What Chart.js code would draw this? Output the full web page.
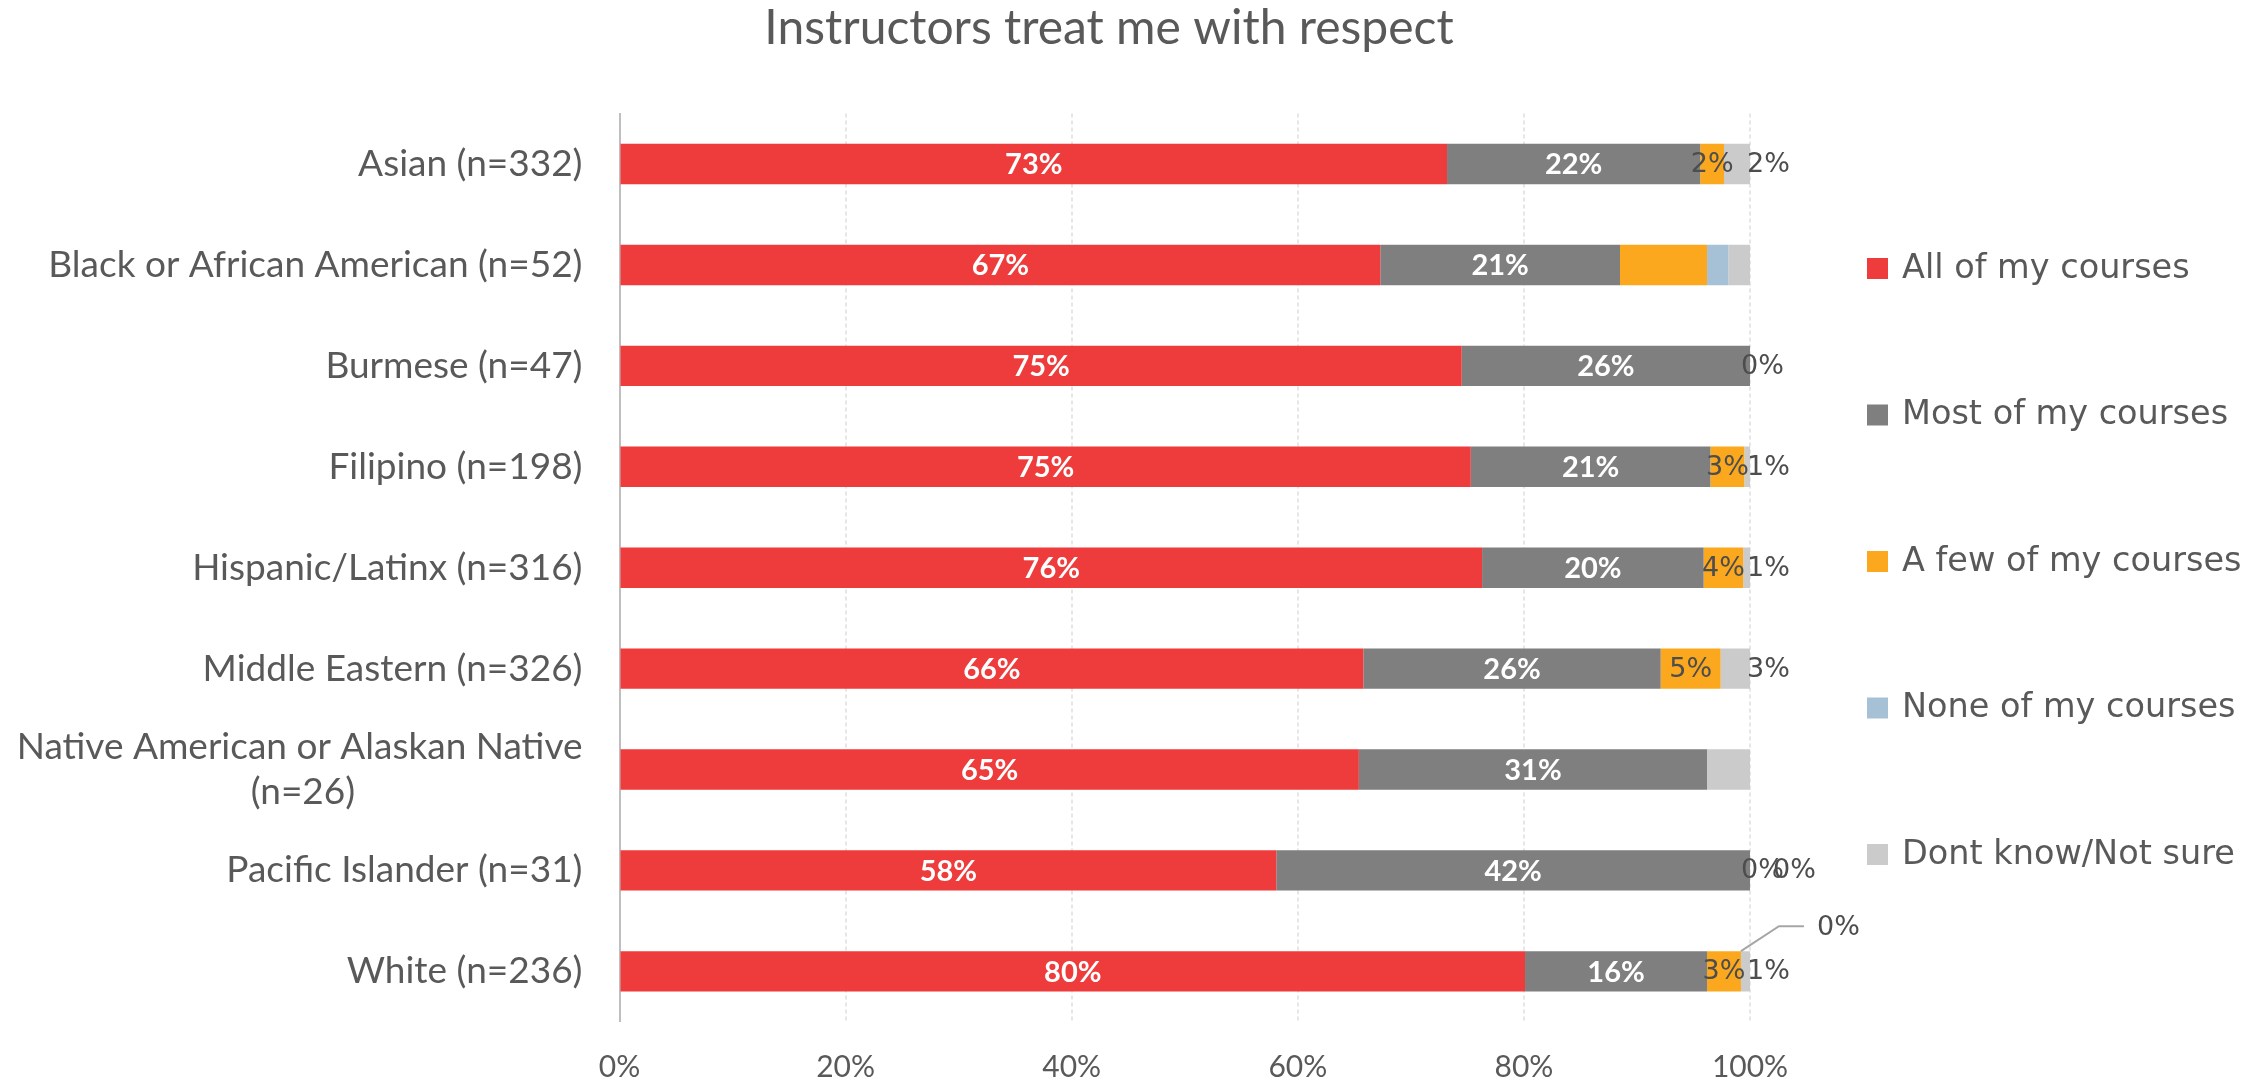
<!DOCTYPE html>
<html><head><meta charset="utf-8">
<script src="https://cdn.jsdelivr.net/npm/chart.js@4/dist/chart.umd.min.js"></script>
<style>html,body{margin:0;padding:0;background:#fff;overflow:hidden;}#wrap{width:2259px;height:1081px;position:relative;}canvas{display:block;}</style>
</head><body><div id="wrap"><canvas id="c" width="2259" height="1081" style="width:2259px;height:1081px"></canvas></div>
<script>
const chartTitle = 'Instructors treat me with respect';
const categories = ['Asian (n=332)', 'Black or African American (n=52)', 'Burmese (n=47)', 'Filipino (n=198)', 'Hispanic/Latinx (n=316)', 'Middle Eastern (n=326)', ['Native American or Alaskan Native', '(n=26)                        '], 'Pacific Islander (n=31)', 'White (n=236)'];
const seriesNames = ['All of my courses', 'Most of my courses', 'A few of my courses', 'None of my courses', 'Dont know/Not sure'];
const seriesColors = ['#EE3B3B', '#7F7F7F', '#FBA81E', '#A6C1D6', '#CBCBCB'];
const allCourses  = [73.2, 67.3, 74.5, 75.3, 76.3, 65.8, 65.4, 58.1, 80.1];
const mostCourses = [22.4, 21.2, 25.5, 21.2, 19.6, 26.3, 30.8, 41.9, 16.1];
const fewCourses  = [2.1, 7.7, 0, 3.0, 3.5, 5.3, 0, 0, 3.0];
const noneCourses = [0, 1.9, 0, 0, 0, 0, 0, 0, 0];
const dontKnow    = [2.3, 1.9, 0, 0.5, 0.6, 2.6, 3.8, 0, 0.8];
const allLabels      = ['73%', '67%', '75%', '75%', '76%', '66%', '65%', '58%', '80%'];
const mostLabels     = ['22%', '21%', '26%', '21%', '20%', '26%', '31%', '42%', '16%'];
const fewLabels      = ['2%', '', '0%', '3%', '4%', '5%', '', '0%', '3%'];
const noneLabels     = ['', '', '', '', '', '', '', '0%', '0%'];
const dontKnowLabels = ['2%', '', '', '1%', '1%', '3%', '', '', '1%'];
const xTickLabels = ['0%', '20%', '40%', '60%', '80%', '100%'];

const seriesValues = [allCourses, mostCourses, fewCourses, noneCourses, dontKnow];
const seriesLabels = [allLabels, mostLabels, fewLabels, noneLabels, dontKnowLabels];

const TEXT = '#595959';
const SMALL = '#4d4d4d';

const segLabels = {
  id: 'segLabels',
  afterDatasetsDraw(chart) {
    const ctx = chart.ctx;
    chart.data.datasets.forEach((ds, di) => {
      const meta = chart.getDatasetMeta(di);
      meta.data.forEach((bar, i) => {
        const txt = seriesLabels[di][i];
        if (!txt) return;
        const p = bar.getProps(['x', 'y', 'base', 'height'], true);
        const left = Math.min(p.x, p.base), right = Math.max(p.x, p.base);
        const v = seriesValues[di][i];
        ctx.save();
        ctx.textBaseline = 'middle';
        if (di < 2) {
          ctx.font = 'bold 29px Lato';
          ctx.fillStyle = '#ffffff';
          ctx.textAlign = 'center';
          ctx.fillText(txt, (left + right) / 2, p.y + 1);
        } else {
          ctx.font = '27px "DejaVu Sans"';
          ctx.fillStyle = SMALL;
          const barEnd = chart.getDatasetMeta(4).data[i].getProps(['x'], true).x;
          if (di === 2) {
            if (v > 0) { ctx.textAlign = 'center'; ctx.fillText(txt, (left + right) / 2, p.y + 1); }
            else { ctx.textAlign = 'left'; ctx.fillText(txt, barEnd - 9, p.y + 1); }
          } else if (di === 3) {
            if (seriesLabels[4][i]) {
              const top = p.y - p.height / 2;
              ctx.strokeStyle = '#a6a6a6';
              ctx.lineWidth = 2;
              ctx.beginPath();
              ctx.moveTo(left, top);
              ctx.lineTo(left + 38, top - 25);
              ctx.lineTo(left + 63, top - 25);
              ctx.stroke();
              ctx.textAlign = 'left';
              ctx.fillText(txt, left + 76, top - 23);
            } else {
              ctx.textAlign = 'left';
              ctx.fillText(txt, barEnd + 23, p.y + 1);
            }
          } else {
            ctx.textAlign = 'left';
            ctx.fillText(txt, right - 3, p.y + 1);
          }
        }
        ctx.restore();
      });
    });
  }
};

const sideLegend = {
  id: 'sideLegend',
  afterDraw(chart) {
    const ctx = chart.ctx;
    ctx.save();
    chart.data.datasets.forEach((ds, k) => {
      const cy = 268 + k * 146.5;
      ctx.fillStyle = ds.backgroundColor;
      ctx.fillRect(1867, cy - 10, 21, 21);
      ctx.font = '33.5px "DejaVu Sans"';
      ctx.fillStyle = TEXT;
      ctx.textAlign = 'left';
      ctx.textBaseline = 'middle';
      ctx.fillText(ds.label, 1902, cy + 1);
    });
    ctx.restore();
  }
};

new Chart(document.getElementById('c'), {
  type: 'bar',
  data: {
    labels: categories,
    datasets: seriesNames.map((name, k) => ({
      label: name,
      data: seriesValues[k],
      backgroundColor: seriesColors[k],
      borderWidth: 0,
      barPercentage: 0.4,
      categoryPercentage: 1
    }))
  },
  options: {
    indexAxis: 'y',
    responsive: false,
    animation: false,
    devicePixelRatio: 1,
    layout: { padding: { left: 0, right: 41, top: 0, bottom: 0 } },
    plugins: {
      legend: { display: false },
      tooltip: { enabled: false },
      title: {
        display: true,
        text: chartTitle,
        color: TEXT,
        font: { family: 'Lato', size: 48, weight: 'normal', lineHeight: 1.2 },
        padding: { top: 0, bottom: 56 }
      }
    },
    scales: {
      x: {
        stacked: true,
        min: 0, max: 100,
        ticks: {
          stepSize: 20,
          color: TEXT,
          font: { family: 'Lato', size: 30 },
          padding: 28,
          callback: (v) => xTickLabels[Math.round(v / 20)]
        },
        grid: { display: true, color: '#e6e6e6', lineWidth: 2, drawTicks: false },
        border: { display: false, dash: [4, 3] },
        afterFit: (s) => { s.height = 58.5; }
      },
      y: {
        stacked: true,
        ticks: {
          color: TEXT,
          font: { family: 'Lato', size: 37, lineHeight: 1.2 },
          padding: 37
        },
        grid: { display: false, drawTicks: false },
        border: { display: true, color: '#bfbfbf', width: 2 },
        afterFit: (s) => { s.width = 619.5; }
      },
      y2: {
        type: 'linear',
        position: 'right',
        display: true,
        ticks: { display: false },
        grid: { display: false, drawTicks: false },
        border: { display: false },
        afterFit: (s) => { s.width = 468; }
      }
    }
  },
  plugins: [segLabels, sideLegend]
});
</script>
</body></html>
